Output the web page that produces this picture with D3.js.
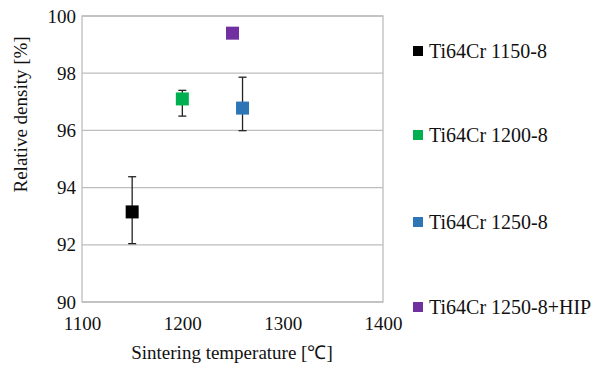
<!DOCTYPE html>
<meta charset="utf-8">
<script src="https://d3js.org/d3.v7.min.js"></script>
<div id="my_dataviz"></div>
<script>

// data
var series = ["Ti64Cr 1150-8", "Ti64Cr 1200-8", "Ti64Cr 1250-8", "Ti64Cr 1250-8+HIP"];
var temps = [1150, 1200, 1260, 1250];
var density = [93.15, 97.1, 96.78, 99.4];
var errHigh = [94.38, 97.4, 97.86, null];
var errLow = [92.04, 96.5, 95.99, null];
var colors = ["#000000", "#00b050", "#2e75b6", "#7030a0"];
var xTicks = [1100, 1200, 1300, 1400];
var yTicks = [90, 92, 94, 96, 98, 100];

var margin = {top: 16, right: 221, bottom: 67, left: 82},
    width = 604 - margin.left - margin.right,
    height = 369 - margin.top - margin.bottom;

var root = d3.select("#my_dataviz")
  .append("svg")
    .attr("width", 604)
    .attr("height", 369)
    .style("position", "absolute")
    .style("left", "0px")
    .style("top", "0px");
var svg = root.append("g")
    .attr("transform", "translate(" + margin.left + "," + margin.top + ")");

var x = d3.scaleLinear().domain([1100, 1400]).range([0, width]);
var y = d3.scaleLinear().domain([90, 100]).range([height, 0]);

// serif text helper
function serifText(sel, size) {
  return sel
    .style("font-family", function() { return "'Liberation Serif'"; })
    .style("font-size", size + "px")
    .style("fill", "#111");
}

// gridlines
svg.append("g")
  .selectAll("line")
  .data(yTicks)
  .enter()
  .append("line")
    .attr("x1", 0)
    .attr("x2", width)
    .attr("y1", function(d) { return y(d); })
    .attr("y2", function(d) { return y(d); })
    .style("stroke", "#bdbdbd")
    .style("stroke-width", 1.3);

// plot box
svg.append("rect")
  .attr("width", width)
  .attr("height", height)
  .style("fill", "none")
  .style("stroke", "#bdbdbd")
  .style("stroke-width", 1.3);

// axes (labels only)
var xAxis = svg.append("g")
  .attr("transform", "translate(0," + height + ")")
  .call(d3.axisBottom(x).tickValues(xTicks).tickSize(0).tickPadding(15).tickFormat(d3.format("d")));
var yAxis = svg.append("g")
  .call(d3.axisLeft(y).tickValues(yTicks).tickSize(0).tickPadding(6).tickFormat(d3.format("d")));
[xAxis, yAxis].forEach(function(a) {
  a.attr("font-family", null).attr("font-size", null);
  a.select(".domain").remove();
  serifText(a.selectAll("text"), 19);
});

// error bars
var pts = series.map(function(s, i) {
  return {name: s, t: temps[i], v: density[i], hi: errHigh[i], lo: errLow[i], c: colors[i]};
});
var eb = svg.append("g").selectAll("g")
  .data(pts.filter(function(d) { return d.hi != null; }))
  .enter().append("g")
  .style("stroke", "#222")
  .style("stroke-width", 1.3);
eb.append("line")
  .attr("x1", function(d) { return x(d.t); })
  .attr("x2", function(d) { return x(d.t); })
  .attr("y1", function(d) { return y(d.hi); })
  .attr("y2", function(d) { return y(d.lo); });
eb.append("line")
  .attr("x1", function(d) { return x(d.t) - 4; })
  .attr("x2", function(d) { return x(d.t) + 4; })
  .attr("y1", function(d) { return y(d.hi); })
  .attr("y2", function(d) { return y(d.hi); });
eb.append("line")
  .attr("x1", function(d) { return x(d.t) - 4; })
  .attr("x2", function(d) { return x(d.t) + 4; })
  .attr("y1", function(d) { return y(d.lo); })
  .attr("y2", function(d) { return y(d.lo); });

// square markers
var ms = 13;
svg.append("g").selectAll("rect")
  .data(pts)
  .enter()
  .append("rect")
    .attr("x", function(d) { return x(d.t) - ms / 2; })
    .attr("y", function(d) { return y(d.v) - ms / 2; })
    .attr("width", ms)
    .attr("height", ms)
    .style("fill", function(d) { return d.c; });

// axis titles
serifText(svg.append("text"), 19)
  .attr("text-anchor", "middle")
  .attr("x", 150)
  .attr("y", height + 57)
  .text("Sintering temperature [℃]");

serifText(svg.append("text"), 19)
  .attr("text-anchor", "middle")
  .attr("transform", "rotate(-90)")
  .attr("x", -(y(96) - 16))
  .attr("y", -55)
  .text("Relative density [%]");

// legend
var legY = [51, 135, 222, 307];
var leg = root.append("g").selectAll("g")
  .data(pts)
  .enter().append("g")
  .attr("transform", function(d, i) { return "translate(413," + legY[i] + ")"; });
leg.append("rect")
  .attr("x", 0)
  .attr("y", -5)
  .attr("width", 10)
  .attr("height", 10)
  .style("fill", function(d) { return d.c; });
serifText(leg.append("text"), 20)
  .attr("x", 16)
  .attr("y", 6.5)
  .text(function(d) { return d.name; });

</script>
